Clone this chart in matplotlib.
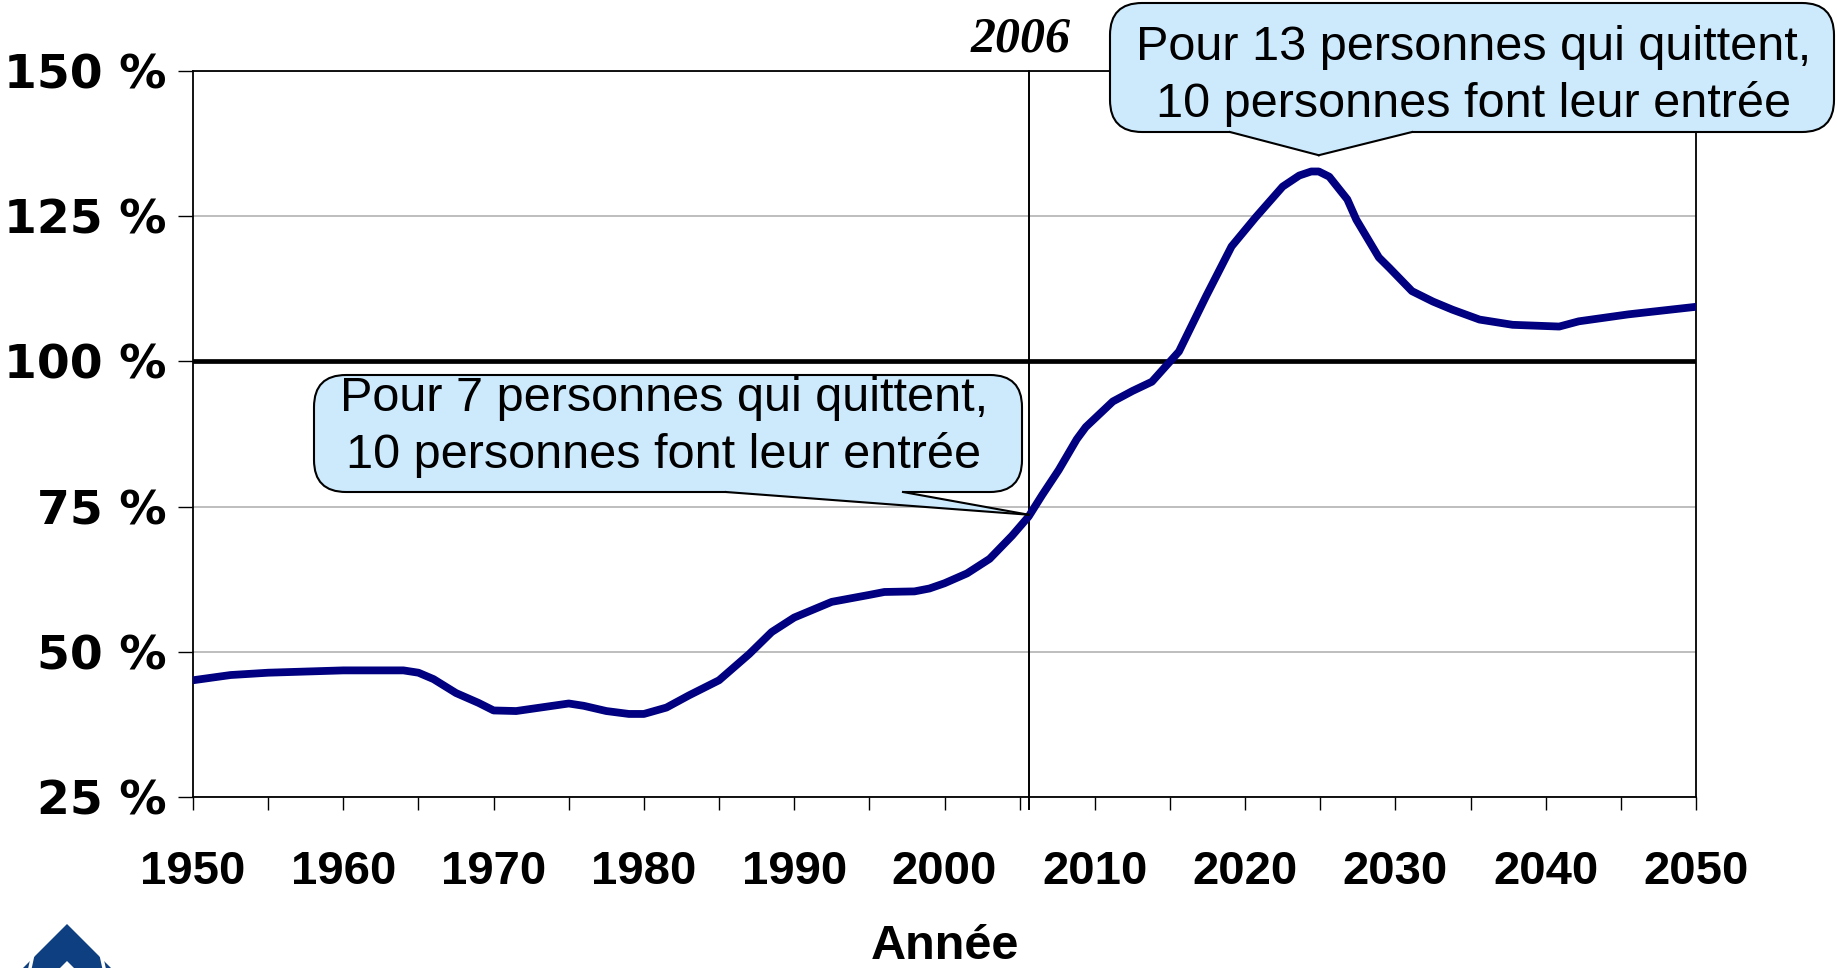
import matplotlib.pyplot as plt
from matplotlib.patches import FancyBboxPatch, Polygon
from matplotlib.lines import Line2D
from matplotlib.transforms import IdentityTransform

# ratio entrées / sorties (en %)
years = [1950, 1952.5, 1955, 1960, 1964, 1965, 1966, 1967.5, 1969, 1970,
         1971.5, 1975, 1976, 1977.5, 1979, 1980, 1981.5, 1983, 1985, 1987,
         1988.5, 1990, 1992.5, 1995, 1996, 1998, 1999, 2000, 2001.5, 2003,
         2004.5, 2005.6, 2006.5, 2007.6, 2008.8, 2009.4, 2011.2, 2012.5, 2013.8, 2015.6,
         2017.4, 2019.1, 2020.7, 2022.5, 2023.6, 2024.4, 2024.9, 2025.6, 2026.8, 2027.4,
         2028.9, 2029.6, 2031.1, 2032.5, 2033.8, 2035.6, 2037.8, 2040.9, 2042.2, 2045.5,
         2050]
ratio = [45.1, 46.0, 46.4, 46.8, 46.8, 46.4, 45.3, 42.9, 41.2, 39.9,
         39.8, 41.1, 40.7, 39.8, 39.3, 39.3, 40.4, 42.5, 45.1, 49.6,
         53.4, 55.9, 58.6, 59.8, 60.3, 60.4, 60.9, 61.8, 63.5, 66.0,
         70.0, 73.3, 77.0, 81.3, 86.6, 88.7, 93.1, 94.9, 96.5, 101.7,
         111.2, 119.8, 124.8, 130.1, 132.0, 132.7, 132.7, 131.8, 127.9, 124.4,
         117.9, 116.1, 112.1, 110.3, 108.9, 107.2, 106.3, 106.0, 106.9, 108.1,
         109.4]

x_ticks = list(range(1950, 2051, 5))
x_labels = [str(y) if y % 10 == 0 else '' for y in x_ticks]
y_ticks = [25, 50, 75, 100, 125, 150]
y_labels = ['25 %', '50 %', '75 %', '100 %', '125 %', '150 %']
ref_year = 2005.6
ref_label = '2006'
text_low = 'Pour 7 personnes qui quittent,\n10 personnes font leur entrée'
text_high = 'Pour 13 personnes qui quittent,\n10 personnes font leur entrée'

W, H = 1837, 968
fig = plt.figure(figsize=(W / 100, H / 100), dpi=100)
ax = fig.add_axes([193 / W, 1 - 797 / H, (1696 - 193) / W, (797 - 71) / H])

ax.plot(years, ratio, color='#000080', lw=5.6, solid_joinstyle='round', zorder=4)
ax.axhline(100, color='black', lw=3.4, zorder=3)
ax.axvline(ref_year, ymin=-0.016, ymax=1, color='black', lw=1.4, clip_on=False, zorder=3)

ax.set_xlim(1950, 2050)
ax.set_ylim(25, 150)
ax.set_xticks(x_ticks)
ax.set_xticklabels(x_labels, fontsize=34, fontweight='bold', family='Liberation Sans')
ax.set_yticks(y_ticks)
ax.set_yticklabels(y_labels, fontsize=34, fontweight='bold', family='DejaVu Sans')
ax.grid(axis='y', color='#b3b3b3', lw=1.2, zorder=1)
ax.tick_params(axis='x', length=9, width=1, pad=29, colors='black')
ax.tick_params(axis='y', length=11, width=1, pad=8, colors='black')
for s in ax.spines.values():
    s.set_color('black')
    s.set_linewidth(1.3)
ax.set_xlabel('Année', fontsize=35, fontweight='bold', family='Liberation Sans', labelpad=22)

ax.annotate(ref_label, (ref_year, 150), xytext=(-6, 14), textcoords='offset points',
            ha='center', va='baseline', fontsize=36, fontweight='bold',
            fontstyle='italic', family='Liberation Serif')

fill = '#cdeafd'
px = IdentityTransform()


def callout(x0, x1, top, bottom, base, tip_data, text, tx, ty):
    # boîte en pixels (y mesuré depuis le haut de l'image)
    yb, yt = H - bottom, H - top
    box = FancyBboxPatch((x0, yb), x1 - x0, yt - yb,
                         boxstyle='round,pad=0,rounding_size=32',
                         fc=fill, ec='black', lw=1.5, transform=px, zorder=5)
    fig.add_artist(box)
    tip = ax.transData.transform(tip_data)
    cover = Polygon([(base[0], yb + 2), (base[1], yb + 2), (base[1], yb), tuple(tip), (base[0], yb)],
                    closed=True, fc=fill, ec='none', transform=px, zorder=6)
    fig.add_artist(cover)
    for bx in base:
        fig.add_artist(Line2D([bx, tip[0]], [yb, tip[1]], color='black', lw=1.5,
                              transform=px, zorder=7))
    fig.text(tx / W, 1 - ty / H, text, ha='center', va='center', fontsize=35,
             family='Liberation Sans', linespacing=1.28, zorder=8)


callout(1110, 1834, 3, 132, (1230, 1412), (2024.9, 135.5), text_high, 1474, 76)
callout(314, 1022, 375, 492, (726, 903), (2005.6, 73.6), text_low, 664, 427)

# logo (coin inférieur gauche)
blue = '#0e3f80'
fig.add_artist(Polygon([(67, H - 924), (133, H - 990), (1, H - 990)], closed=True,
                       fc=blue, ec='none', transform=px))
fig.add_artist(Polygon([(67, H - 961), (96, H - 990), (38, H - 990)], closed=True,
                       fc='white', ec='none', transform=px))
for gx in (33, 101):
    fig.add_artist(Line2D([gx, gx + (1 if gx > 67 else -1) * 3], [H - 954, H - 968],
                          color='white', lw=2.5, transform=px))

fig.savefig('out.png', dpi=100)
